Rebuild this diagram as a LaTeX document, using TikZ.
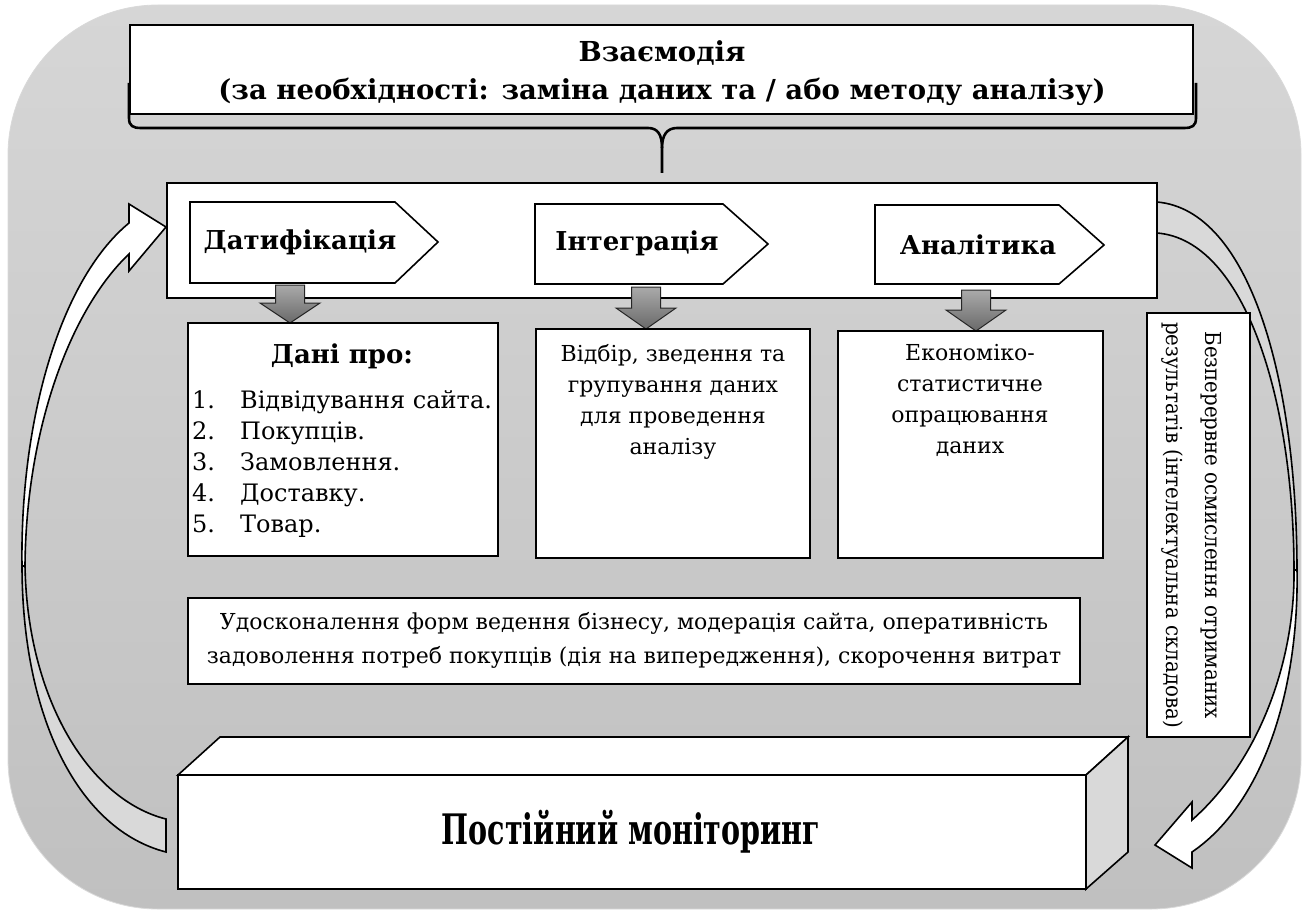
\documentclass[tikz,border=0pt]{standalone}
\usepackage{fontspec}
\setmainfont{DejaVu Serif}
\usetikzlibrary{calc}
\definecolor{bgtop}{RGB}{214,214,214}
\definecolor{bgbot}{RGB}{192,192,192}
\definecolor{backside}{RGB}{217,217,217}
\definecolor{sideface}{RGB}{217,217,217}
\definecolor{arrtop}{RGB}{170,170,170}
\definecolor{arrbot}{RGB}{105,105,105}
\begin{document}
\begin{tikzpicture}[x=1pt,y=-1pt,line join=miter,
  box/.style={draw=black,line width=1.8pt,fill=white},
  txt/.style={font=\fontsize{22}{31}\selectfont,align=center,inner sep=0pt},
  btxt/.style={font=\fontsize{26}{38}\selectfont\bfseries,align=center,inner sep=0pt},
  garrow/.style={draw=black!85,line width=1pt,top color=arrtop,bottom color=arrbot},
  ribbon/.style={draw=black,line width=1.6pt},
  brace/.style={draw=black,line width=2.6pt}]
\useasboundingbox (0,0) rectangle (1305,912);
% background
\shade[top color=bgtop,bottom color=bgbot,draw=black!15,line width=0.8pt,rounded corners=150pt] (8,5) rectangle (1301,909);

% brace under the top box
\draw[brace] (129,83) -- (129,118) .. controls (129,126) and (133,128) .. (141,128) -- (648,128)
  .. controls (658,128) and (662,135) .. (662,148) -- (662,173);
\draw[brace] (1196,83) -- (1196,118) .. controls (1196,126) and (1192,128) .. (1184,128) -- (677,128)
  .. controls (667,128) and (662,135) .. (662,148);
% top box
\draw[box] (130,25) rectangle (1193,114);
\node[btxt,font=\fontsize{27.5}{38}\selectfont\bfseries] (interact) at (662,73)
  {Взаємодія\\(за необхідності: заміна даних та / або методу аналізу)};

% left curved arrow (back side, grey)
\draw[ribbon,fill=backside] (166,852) .. controls (80,830) and (22,720) .. (22,565)
  -- (25,565) .. controls (27,700) and (90,800) .. (166,819) -- cycle;
% left curved arrow (front side, white)
\draw[ribbon,fill=white] (22,566) .. controls (20,420) and (60,280) .. (129,223)
  -- (129,204) -- (166,227) -- (129,271) -- (129,254)
  .. controls (70,310) and (26,430) .. (25,566) -- cycle;

% right curved arrow (back side, grey)
\draw[ribbon,fill=backside] (1157,202) .. controls (1250,210) and (1297,380) .. (1297,572)
  -- (1294,572) .. controls (1294,400) and (1245,240) .. (1157,233) -- cycle;
% right curved arrow (front side, white)
\draw[ribbon,fill=white] (1294,570) .. controls (1295,660) and (1260,760) .. (1192,820)
  -- (1192,802) -- (1155,845) -- (1192,868) -- (1192,852)
  .. controls (1268,800) and (1299,680) .. (1297,570) -- cycle;

% band with the three stages
\draw[box] (167,183) rectangle (1157,298);
\draw[box,line width=1.6pt] (190,202) -- (395,202) -- (438,242) -- (395,283) -- (190,283) -- cycle;
\draw[box,line width=1.6pt] (535,204) -- (723,204) -- (768,244) -- (723,284) -- (535,284) -- cycle;
\draw[box,line width=1.6pt] (875,205) -- (1059,205) -- (1104,245) -- (1059,284) -- (875,284) -- cycle;
\node[btxt] (dat) at (300,242) {Датифікація};
\node[btxt] (int) at (637,243) {Інтеграція};
\node[btxt] (anl) at (978,245) {Аналітика};

% grey block arrows
\draw[garrow] (275.5,285) -- (304.5,285) -- (304.5,303) -- (320,303) -- (290,323) -- (260,303) -- (275.5,303) -- cycle;
\draw[garrow] (631.5,287) -- (660.5,287) -- (660.5,308) -- (676,308) -- (646,329) -- (616,308) -- (631.5,308) -- cycle;
\draw[garrow] (961.5,290) -- (990.5,290) -- (990.5,310) -- (1006,310) -- (976,331) -- (946,310) -- (961.5,310) -- cycle;

% boxes under the stages
\draw[box] (188,323) rectangle (498,556);
\node[btxt] (datahead) at (342,356) {Дані про:};
\node[txt,align=left,anchor=north west,font=\fontsize{24}{31}\selectfont] (datalist) at (192,390)
  {\makebox[48pt][l]{1.}Відвідування сайта.\\
   \makebox[48pt][l]{2.}Покупців.\\
   \makebox[48pt][l]{3.}Замовлення.\\
   \makebox[48pt][l]{4.}Доставку.\\
   \makebox[48pt][l]{5.}Товар.};
\draw[box] (536,329) rectangle (810,558);
\node[txt,anchor=north] (sel) at (673,344) {Відбір, зведення та\\групування даних\\для проведення\\аналізу};
\draw[box] (838,331) rectangle (1103,558);
\node[txt,anchor=north] (eco) at (970,344) {Економіко-\\статистичне\\опрацювання\\даних};

% improvement box
\draw[box] (188,598) rectangle (1080,684);
\node[txt,font=\fontsize{22}{34}\selectfont] (impr) at (634,640)
  {Удосконалення форм ведення бізнесу, модерація сайта, оперативність\\задоволення потреб покупців (дія на випередження), скорочення витрат};

% vertical box
\draw[box] (1147,313) rectangle (1250,737);
\node[txt,rotate=-90,font=\fontsize{22}{39}\selectfont] (insight) at (1192,525)
  {\scalebox{0.9}[1]{Безперервне осмислення отриманих}\\\scalebox{0.9}[1]{результатів (інтелектуальна складова)}};

% 3D box
\draw[box,line width=1.6pt] (178,775) -- (220,737) -- (1128,737) -- (1086,775) -- cycle;
\draw[box,line width=1.6pt,fill=sideface] (1086,775) -- (1128,737) -- (1128,852) -- (1086,889) -- cycle;
\draw[box,line width=1.6pt] (178,775) rectangle (1086,889);
\node[inner sep=0pt,font=\fontsize{42}{48}\selectfont\bfseries] (monitor) at (631,832) {\scalebox{0.68}[1]{Постійний моніторинг}};
\end{tikzpicture}
\end{document}
